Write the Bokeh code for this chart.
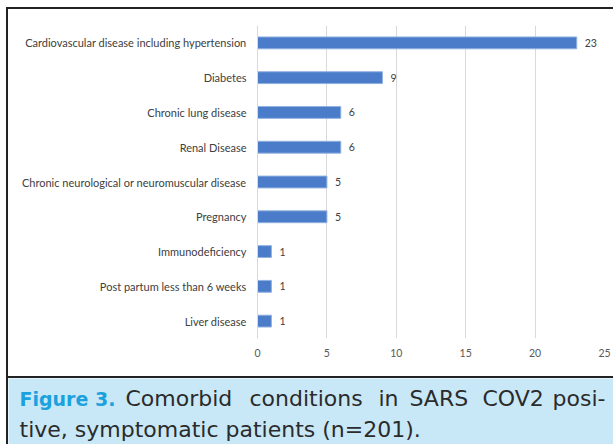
from bokeh.plotting import figure
from bokeh.models import ColumnDataSource, FactorRange, Label, FixedTicker, Div, Spacer
from bokeh.layouts import column, row
from bokeh.embed import file_html
from bokeh.resources import INLINE
from bokeh.core.properties import value

categories = [
    "Cardiovascular disease including hypertension",
    "Diabetes",
    "Chronic lung disease",
    "Renal Disease",
    "Chronic neurological or neuromuscular disease",
    "Pregnancy",
    "Immunodeficiency",
    "Post partum less than 6 weeks",
    "Liver disease",
]
counts = [23, 9, 6, 6, 5, 5, 1, 1, 1]
x_ticks = [0, 5, 10, 15, 20, 25]

caption_head = "Figure 3."
caption_line1_words = ["Comorbid", "conditions", "in", "SARS", "COV2", "posi-"]
caption_line2 = "tive, symptomatic patients (n=201)."

src = ColumnDataSource(dict(cat=categories, n=counts, lab=[str(c) for c in counts]))

DARK = {"background-color": "#222222", "overflow": "hidden", "padding": "0", "margin": "0"}


def dark(w, h):
    return Div(text="", width=w, height=h, margin=0, styles=DARK)


p = figure(
    width=605, height=367,
    y_range=FactorRange(factors=categories[::-1], range_padding=0),
    x_range=(0, 25),
    output_backend="svg", toolbar_location=None,
    min_border_left=249, min_border_right=9, min_border_top=16, min_border_bottom=38,
)
p.hbar(y="cat", right="n", left=0, height=0.34, source=src,
       fill_color="#4a7cc9", line_color="#8fb0e0", line_width=1)
p.text(x="n", y="cat", text="lab", source=src, x_offset=8,
       text_baseline="middle", text_align="left", text_font=value("Lato"),
       text_font_size="10.5px", text_color="#404040")

p.outline_line_color = None
p.background_fill_color = "white"
p.border_fill_color = "white"
p.ygrid.grid_line_color = None
p.xgrid.grid_line_color = "#d9d9d9"
p.xgrid.grid_line_width = 1
p.xaxis.ticker = FixedTicker(ticks=x_ticks)
p.xaxis.axis_line_color = None
p.xaxis.major_tick_line_color = None
p.xaxis.minor_tick_line_color = None
p.xaxis.major_label_standoff = 4
p.xaxis.major_label_text_font = "Lato"
p.xaxis.major_label_text_font_size = "10.5px"
p.xaxis.major_label_text_color = "#595959"
p.yaxis.axis_line_color = "#d9d9d9"
p.yaxis.major_tick_line_color = None
p.yaxis.minor_tick_line_color = None
p.yaxis.major_label_standoff = 5
p.yaxis.major_label_text_font = "Lato"
p.yaxis.major_label_text_font_size = "11px"
p.yaxis.major_label_text_color = "#404040"

cap = figure(width=605, height=66, x_range=(0, 605), y_range=(0, 66),
             output_backend="svg", toolbar_location=None,
             min_border=0, min_border_left=0, min_border_right=0,
             min_border_top=0, min_border_bottom=0)
cap.axis.visible = False
cap.grid.visible = False
cap.outline_line_color = None
cap.background_fill_color = "#c8e8f8"
cap.border_fill_color = "#c8e8f8"

font = "DejaVu Sans"
fs = "22px"
cap.add_layout(Label(x=11, y=46, x_units="screen", y_units="screen", text=caption_head,
                     text_font=font, text_font_style="bold",
                     text_font_size="19px", text_color="#1ba1dd",
                     text_baseline="middle", text_align="left"))
word_x = [117, 241, 370, 401, 474, 544]
for w, x in zip(caption_line1_words, word_x):
    cap.add_layout(Label(x=x, y=46, x_units="screen", y_units="screen", text=w,
                         text_font=font, text_font_size=fs, text_color="#2b2b2b",
                         text_baseline="middle", text_align="left"))
cap.add_layout(Label(x=11, y=15, x_units="screen", y_units="screen",
                     text=caption_line2,
                     text_font=font, text_font_size=fs, text_color="#2b2b2b",
                     text_baseline="middle", text_align="left"))

lay = column(
    Spacer(width=613, height=7, margin=0),
    row(Spacer(width=6, height=437, margin=0),
        column(dark(607, 2),
               row(dark(2, 367), p, spacing=0),
               dark(607, 2),
               row(dark(2, 66), cap, spacing=0),
               spacing=0),
        spacing=0),
    spacing=0,
)

open("out.html", "w").write(file_html(lay, INLINE))
